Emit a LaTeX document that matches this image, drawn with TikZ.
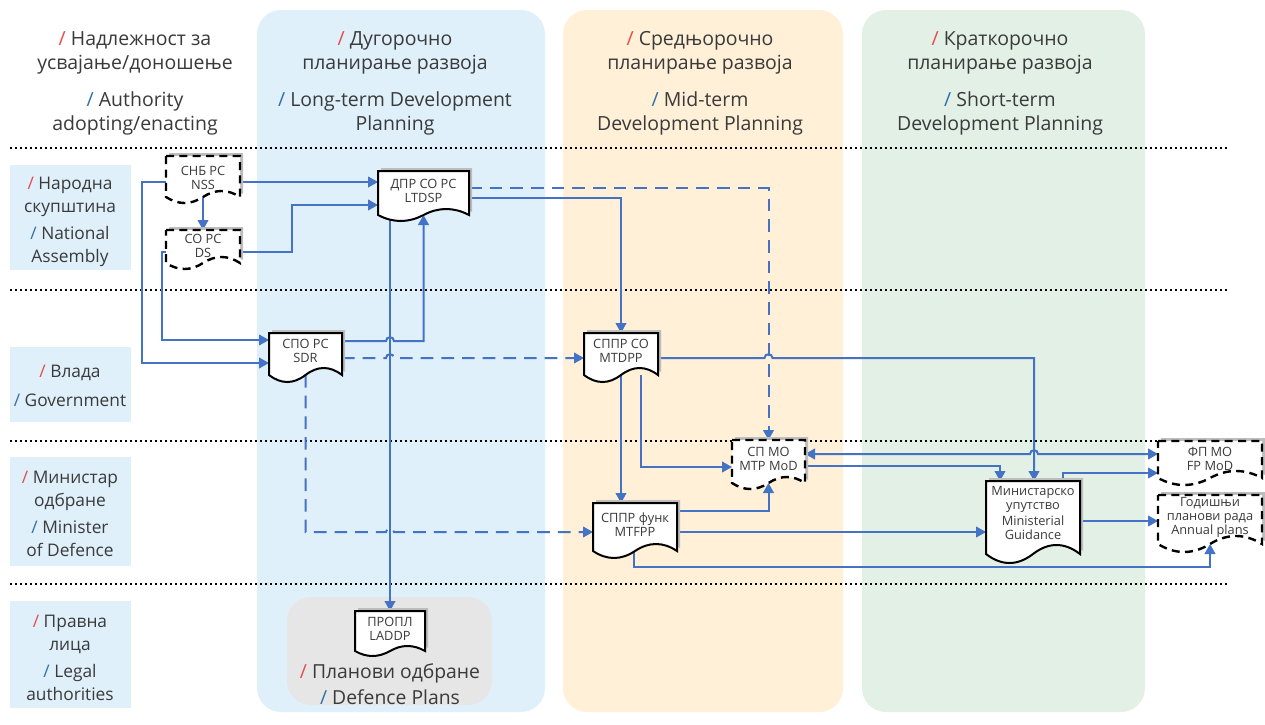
\documentclass[tikz,border=0pt]{standalone}
\usepackage{fontspec}
\setmainfont{Open Sans}
\usetikzlibrary{arrows.meta}
\definecolor{cblue}{HTML}{DFF0FB}
\definecolor{corange}{HTML}{FFF0D7}
\definecolor{cgreen}{HTML}{E2F0E5}
\definecolor{cgrey}{HTML}{E6E6E6}
\definecolor{lineblue}{HTML}{4472C4}
\definecolor{txt}{HTML}{3A3A3A}
\definecolor{slred}{HTML}{E84A4A}
\definecolor{slblue}{HTML}{2F6FA8}
\definecolor{shad}{HTML}{BDBDBD}
\newcommand\slR{{\color{slred}/}}
\newcommand\slB{{\color{slblue}/}}
\pgfdeclarelayer{bg}
\pgfdeclarelayer{conn}
\pgfsetlayers{bg,conn,main}
\newcommand\docpath[5]{(#1,#2) -- (#3,#2) -- (#3,#4) .. controls ({#3-(#3-#1)/6},{#4-4*#5/3}) and ({#3-(#3-#1)/3},{#4-4*#5/3}) .. ({(#1+#3)/2},#4) .. controls ({(#1+#3)/2-(#3-#1)/6},{#4+4*#5/3}) and ({(#1+#3)/2-(#3-#1)/3},{#4+4*#5/3}) .. (#1,#4) -- cycle}
\newcommand\docnode[9]{%
  \fill[shad,shift={(3,-3)}] \docpath{#3}{#4}{#5}{#6}{#7};
  \filldraw[fill=white,draw=black,#1] \docpath{#3}{#4}{#5}{#6}{#7};
  \node[docbox,minimum width={(#5-#3)*0.75pt},minimum height={(#6-#4)*0.75pt}] (#2) at ({(#3+#5)/2},{(#4+#6)/2}) {};
  \node[doctext] (#2-t) at ({(#3+#5)/2},#8) {#9};
}
\tikzset{
  arr/.style={draw=lineblue, line width=1.5pt, -{Triangle[length=7.5pt,width=8pt]}},
  arrd/.style={arr, dash pattern=on 9.5pt off 6pt},
  arrtwo/.style={draw=lineblue, line width=1.5pt, {Triangle[length=7.5pt,width=8pt]}-{Triangle[length=7.5pt,width=8pt]}},
  docsolid/.style={line width=1.5pt},
  docdash/.style={line width=1.8pt, dash pattern=on 6pt off 4pt},
  docbox/.style={inner sep=0pt, outer sep=0pt, draw=none},
  doctext/.style={font=\fontsize{9.6}{10.5}\selectfont, text=txt, align=center, inner sep=0pt},
  hdr/.style={font=\fontsize{14.6}{18}\selectfont, text=txt, align=center, inner sep=0pt},
  lbl/.style={font=\fontsize{13}{17.25}\selectfont, text=txt, align=center, inner sep=0pt},
  plan/.style={font=\fontsize{14.5}{19.5}\selectfont, text=txt, align=center, inner sep=0pt},
  dotline/.style={draw=black, line width=1.5pt, dash pattern=on 1.5pt off 2.25pt},
}
\begin{document}
\begin{tikzpicture}[x=0.75pt,y=-0.75pt]
\useasboundingbox (0,0) rectangle (1265,725);
\begin{pgfonlayer}{bg}
  \fill[white] (0,0) rectangle (1265,725);
  \fill[cblue,rounded corners=18pt] (257,10) rectangle (545,712);
  \fill[corange,rounded corners=18pt] (563,10) rectangle (843,712);
  \fill[cgreen,rounded corners=18pt] (862,10) rectangle (1145,712);
  \fill[cgrey,rounded corners=18pt] (287,597) rectangle (492,705);
  \fill[cblue] (10,165) rectangle (131,270);
  \fill[cblue] (10,347) rectangle (131,422);
  \fill[cblue] (10,457) rectangle (131,566);
  \fill[cblue] (10,601) rectangle (131,708);
  \draw[dotline] (10,148) -- (1230,148);
  \draw[dotline] (10,290) -- (1230,290);
  \draw[dotline] (10,441) -- (1230,441);
  \draw[dotline] (10,584) -- (1230,584);
\end{pgfonlayer}

% headers
\node[hdr] (h0a) at (135,53) {\slR\ Надлежност за\\усвајање/доношење};
\node[hdr] (h0b) at (135,113) {\slB\ Authority\\adopting/enacting};
\node[hdr] (h1a) at (395,53) {\slR\ Дугорочно\\планирање развоја};
\node[hdr] (h1b) at (395,113) {\slB\ Long-term Development\\Planning};
\node[hdr] (h2a) at (700,53) {\slR\ Средњорочно\\планирање развоја};
\node[hdr] (h2b) at (700,113) {\slB\ Mid-term\\Development Planning};
\node[hdr] (h3a) at (1000,53) {\slR\ Краткорочно\\планирање развоја};
\node[hdr] (h3b) at (1000,113) {\slB\ Short-term\\Development Planning};

% row labels
\node[lbl] (r1) at (70,222) {\slR\ Народна\\скупштина\\[3pt]\slB\ National\\Assembly};
\node[lbl] (r2) at (70,386) {\slR\ Влада\\[4pt]\slB\ Government};
\node[lbl] (r3) at (70,514) {\slR\ Министар\\одбране\\[3pt]\slB\ Minister\\of Defence};
\node[lbl] (r4) at (70,658) {\slR\ Правна\\лица\\[3pt]\slB\ Legal\\authorities};

% defence plans label
\node[plan] (dp) at (390,684) {\slR\ Планови одбране\\\slB\ Defence Plans};

% documents
\docnode{docdash}{snb}{166}{156}{240}{197}{6}{177.5}{СНБ РС\\NSS}
\docnode{docdash}{ds}{166}{230}{240}{263}{6}{246}{СО РС\\DS}
\docnode{docsolid}{dpr}{378}{171}{469}{215}{6}{190.5}{ДПР СО РС\\LTDSP}
\docnode{docsolid}{spo}{269}{333}{342}{375}{7}{351}{СПО РС\\SDR}
\docnode{docsolid}{sppr}{584}{333}{658}{375}{7}{351}{СППР СО\\MTDPP}
\docnode{docdash}{spmo}{732}{440}{805}{483}{6}{458.5}{СП МО\\MTP MoD}
\docnode{docsolid}{spfn}{593}{503}{677}{551}{7}{524.5}{СППР функ\\MTFPP}
\docnode{docsolid}{mins}{986}{481}{1080}{554}{9}{513}{Министарско\\упутство\\[1.5pt]Ministerial\\Guidance}
\docnode{docdash}{fp}{1158}{441}{1262}{478}{7}{459}{ФП МО\\FP MoD}
\docnode{docdash}{ann}{1158}{495}{1262}{544}{8}{517}{Годишњи\\планови рада\\Annual plans}
\docnode{docsolid}{propl}{355}{611}{425}{651}{5}{629}{ПРОПЛ\\LADDP}

% connectors
\begin{pgfonlayer}{conn}
  \draw[arr] (snb.east |- 0,182) -- (dpr.west |- 0,182);
  \draw[arr] (snb.south) -- (ds.north);
  \draw[arr] (ds.east |- 0,252) -- (292,252) -- (292,205) -- (dpr.west |- 0,205);
  \draw[arr] (snb.west |- 0,182) -- (142,182) -- (142,363) -- (spo.west |- 0,363);
  \draw[arr] (ds.west |- 0,252) -- (162,252) -- (162,340) -- (spo.west |- 0,340);
  \draw[arr] (spo.east |- 0,341) -- (386,341) .. controls (386,336) and (394,336) .. (394,341) -- (423.5,341) -- (dpr.south);
  \draw[arrd] (spo.east |- 0,358) -- (386,358) .. controls (386,353) and (394,353) .. (394,358) -- (sppr.west |- 0,358);
  \draw[arrd] (dpr.east |- 0,188) -- (768.5,188) -- (spmo.north);
  \draw[arr] (dpr.east |- 0,198) -- (621,198) -- (sppr.north);
  \draw[arr] (dpr.south -| propl.north) -- (propl.north);
  \draw[arrd] (spo.south) -- (spo.south |- 0,532) -- (386,532) .. controls (386,527) and (394,527) .. (394,532) -- (spfn.west |- 0,532);
  \draw[arr] (sppr.east |- 0,358) -- (764.5,358) .. controls (764.5,353) and (772.5,353) .. (772.5,358) -- (1034,358) -- (mins.north -| 1034,0);
  \draw[arr] (sppr.south -| 641,0) -- (641,467) -- (spmo.west |- 0,467);
  \draw[arr] (sppr.south) -- (spfn.north -| sppr.south);
  \draw[arrtwo] (spmo.east |- 0,454) -- (1030,454) .. controls (1030,449) and (1038,449) .. (1038,454) -- (fp.west |- 0,454);
  \draw[arr] (spmo.east |- 0,466) -- (1000,466) -- (mins.north -| 1000,0);
  \draw[arr] (spfn.east |- 0,511) -- (768.5,511) -- (spmo.south);
  \draw[arr] (spfn.east |- 0,532) -- (mins.west |- 0,532);
  \draw[arr] (spfn.south -| 634,0) -- (634,567) -- (1210,567) -- (ann.south);
  \draw[arr] (mins.north -| 1063,0) -- (1063,473) -- (fp.west |- 0,473);
  \draw[arr] (mins.east |- 0,521) -- (ann.west |- 0,521);
\end{pgfonlayer}
\end{tikzpicture}
\end{document}
